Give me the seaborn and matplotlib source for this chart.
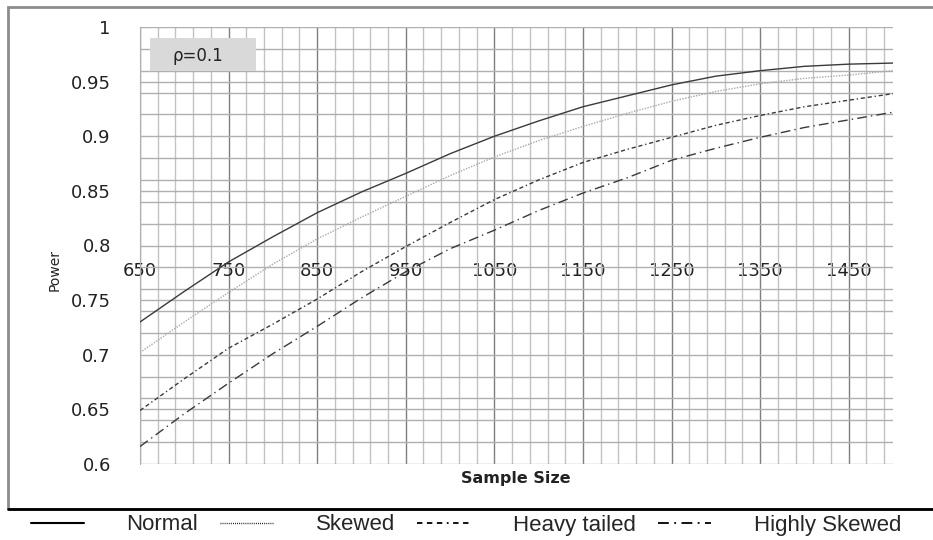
import numpy as np
import pandas as pd
import matplotlib
matplotlib.use("Agg")
import matplotlib.pyplot as plt
import seaborn as sns
from matplotlib.ticker import FixedLocator, FuncFormatter
from matplotlib.lines import Line2D
from matplotlib.patches import Rectangle

sample_size = [650, 700, 750, 800, 850, 900, 950, 1000, 1050, 1100, 1150,
               1200, 1250, 1300, 1350, 1400, 1450, 1500]
normal = [0.730, 0.758, 0.785, 0.808, 0.830, 0.849, 0.866, 0.884, 0.900, 0.914,
          0.927, 0.937, 0.947, 0.955, 0.960, 0.964, 0.966, 0.967]
skewed = [0.702, 0.730, 0.757, 0.783, 0.806, 0.826, 0.845, 0.864, 0.881, 0.896,
          0.909, 0.921, 0.932, 0.941, 0.948, 0.953, 0.956, 0.960]
heavy_tailed = [0.649, 0.678, 0.706, 0.728, 0.751, 0.776, 0.799, 0.821, 0.842, 0.860,
                0.876, 0.888, 0.899, 0.910, 0.919, 0.927, 0.933, 0.939]
highly_skewed = [0.616, 0.646, 0.674, 0.701, 0.726, 0.752, 0.776, 0.797, 0.814, 0.832,
                 0.848, 0.862, 0.878, 0.889, 0.899, 0.908, 0.915, 0.922]
series_names = ["Normal", "Skewed", "Heavy tailed", "Highly Skewed"]
x_ticks = [650, 750, 850, 950, 1050, 1150, 1250, 1350, 1450]
y_ticks = [0.6, 0.65, 0.7, 0.75, 0.8, 0.85, 0.9, 0.95, 1.0]

sns.set_style("white")
plt.rcParams['font.family'] = ['DejaVu Sans']

W, H = 933, 540
fig = plt.figure(figsize=(W / 100, H / 100), dpi=100)
ax = fig.add_axes([140 / W, 1 - 464 / H, (893 - 140) / W, (464 - 27) / H])

styles = [
    dict(color="#3a3a3a", linestyle="-", linewidth=1.0),
    dict(color="#a8a8a8", linestyle=(0, (1, 1)), linewidth=1.0),
    dict(color="#3a3a3a", linestyle=(0, (3, 2, 3, 2, 1, 2)), linewidth=1.0),
    dict(color="#3a3a3a", linestyle=(0, (7, 3, 1, 3)), linewidth=1.0),
]
data = [normal, skewed, heavy_tailed, highly_skewed]
for name, vals, st in zip(series_names, data, styles):
    df = pd.DataFrame({"n": sample_size, "p": vals})
    sns.lineplot(data=df, x="n", y="p", ax=ax, **st, zorder=5)

ax.set_xlim(650, 1500)
ax.set_ylim(0.6, 1.0)

# gridlines
ax.xaxis.set_major_locator(FixedLocator(x_ticks))
ax.xaxis.set_minor_locator(FixedLocator(list(range(650, 1501, 20))))
ax.yaxis.set_major_locator(FixedLocator(y_ticks))
ax.yaxis.set_minor_locator(FixedLocator([round(0.6 + 0.02 * i, 2) for i in range(21)]))
ax.grid(which="major", axis="x", color="#7f7f7f", linewidth=1.0)
ax.grid(which="minor", axis="x", color="#c2c2c2", linewidth=1.0)
ax.grid(which="both", axis="y", color="#b0b0b0", linewidth=1.0)
ax.set_axisbelow(True)

ax.yaxis.set_major_formatter(FuncFormatter(lambda v, p: f"{round(v, 2):g}"))
ax.tick_params(axis="y", which="major", length=5, color="#b0b0b0", pad=16,
               labelsize=13, labelcolor="#222222")
ax.tick_params(axis="y", which="minor", length=0)
ax.tick_params(axis="x", which="both", length=0, pad=12, labelsize=13,
               labelcolor="#222222")

for s in ["top", "right"]:
    ax.spines[s].set_visible(False)
ax.spines["left"].set_color("#b0b0b0")
ax.spines["bottom"].set_position(("data", 0.8))
ax.spines["bottom"].set_visible(False)

ax.set_xlabel("")
ax.set_ylabel("")
fig.text(516 / W, 1 - 478 / H, "Sample Size", ha="center", va="center",
         fontsize=11.5, fontweight="bold", color="#222222")
fig.text(55 / W, 1 - 270 / H, "Power", ha="center", va="center", rotation=90,
         fontsize=10, color="#222222")

# rho label box
fig.add_artist(Rectangle((150 / W, 1 - 71 / H), 106 / W, 33 / H,
                         transform=fig.transFigure, facecolor="#d9d9d9",
                         edgecolor="none", zorder=10))
fig.text(198 / W, 1 - 56 / H, "ρ=0.1", ha="center", va="center", fontsize=12,
         color="#222222", zorder=11)

# outer frame
fig.add_artist(Rectangle((8 / W, 1 - 509 / H), 940 / W, 502 / H,
                         transform=fig.transFigure, facecolor="none",
                         edgecolor="#8c8c8c", linewidth=2))
fig.add_artist(Line2D([8 / W, 1.0], [1 - 509 / H, 1 - 509 / H],
                      transform=fig.transFigure, color="black", linewidth=2))

# legend below
handles = [
    Line2D([], [], color="black", linestyle="-", linewidth=1.5),
    Line2D([], [], color="black", linestyle=(0, (0.6, 0.9)), linewidth=1.0),
    Line2D([], [], color="black", linestyle=(0, (3, 2.5, 3, 2.5, 3, 2.5, 1, 2.5)), linewidth=1.3),
    Line2D([], [], color="black", linestyle=(0, (6, 3, 1, 3)), linewidth=1.3),
]
fig.legend(handles, series_names, loc="center", bbox_to_anchor=(466 / W, 1 - 525 / H),
           ncol=4, frameon=False,
           prop={"family": "Liberation Sans", "size": 16},
           handlelength=2.4, handletextpad=1.9, columnspacing=1.0,
           borderaxespad=0, borderpad=0)

fig.savefig("out.png", dpi=100)
